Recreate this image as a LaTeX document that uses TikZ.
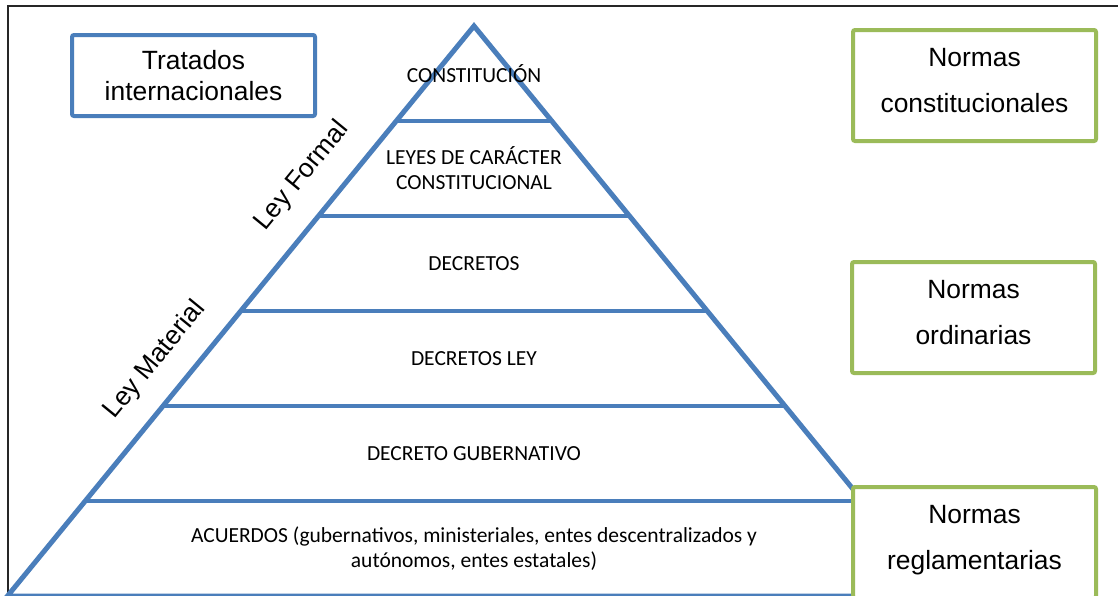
\documentclass[tikz,border=0pt]{standalone}
\usepackage{fontspec}
\setmainfont{Carlito}
\newfontfamily\arialfont{Liberation Sans}
\usetikzlibrary{calc}
\definecolor{pyrblue}{HTML}{4A7EBB}
\definecolor{boxgreen}{HTML}{9BBB59}
\def\px{0.5pt}
\def\dy{95}
\tikzstyle{frame}=[draw=black!85,line width=0.8pt]
\tikzstyle{side}=[draw=pyrblue,line width=2.5pt]
\tikzstyle{level}=[draw=pyrblue,line width=2.3pt]
\tikzstyle{levelText}=[align=center,font=\fontsize{10.75}{12.5}\selectfont]
\tikzstyle{leyText}=[rotate=50.7,font=\arialfont\fontsize{13.2}{15.5}\selectfont]
\tikzstyle{tratado}=[draw=pyrblue,line width=2pt,rounded corners=1pt,fill=white,
  minimum width=121.5pt,minimum height=40.5pt,align=center,
  font=\arialfont\fontsize{13.2}{15.5}\selectfont]
\tikzstyle{norma}=[draw=boxgreen,line width=2pt,rounded corners=1pt,fill=white,
  minimum width=121.5pt,minimum height=55.5pt,align=center,text depth=5pt,
  font=\arialfont\fontsize{13.2}{23}\selectfont]
\newcommand{\newNorma}[4]{\node[#3](#1) at #4 {#2};}
\newcommand{\newLevel}[3]{\node[levelText](#1) at (474,{26+(#2)*\dy}) {#3};}

\begin{document}
\begin{tikzpicture}[x=\px,y=-\px]
  \useasboundingbox (0,0) rectangle (1118,595);
  \clip (0,0) rectangle (1118,595);
  \draw[frame] (8,620) |- (1130,6);
  % piramide
  \coordinate (top) at (474,26);
  \coordinate (bl) at (7.5,596);
  \coordinate (br) at (940.5,596);
  \draw[side] (bl) -- (top) -- (br) -- cycle;
  \foreach \k in {1,...,5}
    \draw[level] ($(top)!\k/6!(bl)$) -- ($(top)!\k/6!(br)$);
  \newLevel{constitucion}{0.5}{CONSTITUCIÓN}
  \newLevel{leyes}{1.5}{LEYES DE CARÁCTER\\CONSTITUCIONAL}
  \newLevel{decretos}{2.5}{DECRETOS}
  \newLevel{decretosLey}{3.5}{DECRETOS LEY}
  \newLevel{gubernativo}{4.5}{DECRETO GUBERNATIVO}
  \newLevel{acuerdos}{5.5}{ACUERDOS (gubernativos, ministeriales, entes descentralizados y\\autónomos, entes estatales)}
  \node[leyText](formal) at (302,176) {Ley Formal};
  \node[leyText](material) at (155,360) {Ley Material};
  % cuadros
  \newNorma{tratados}{Tratados\\internacionales}{tratado}{(193.5,75.5)}
  \newNorma{constitucionales}{Normas\\constitucionales}{norma}{(974.5,85.5)}
  \newNorma{ordinarias}{Normas\\ordinarias}{norma}{(973.5,317.5)}
  \newNorma{reglamentarias}{Normas\\reglamentarias}{norma}{(974.5,542.5)}
\end{tikzpicture}
\end{document}
